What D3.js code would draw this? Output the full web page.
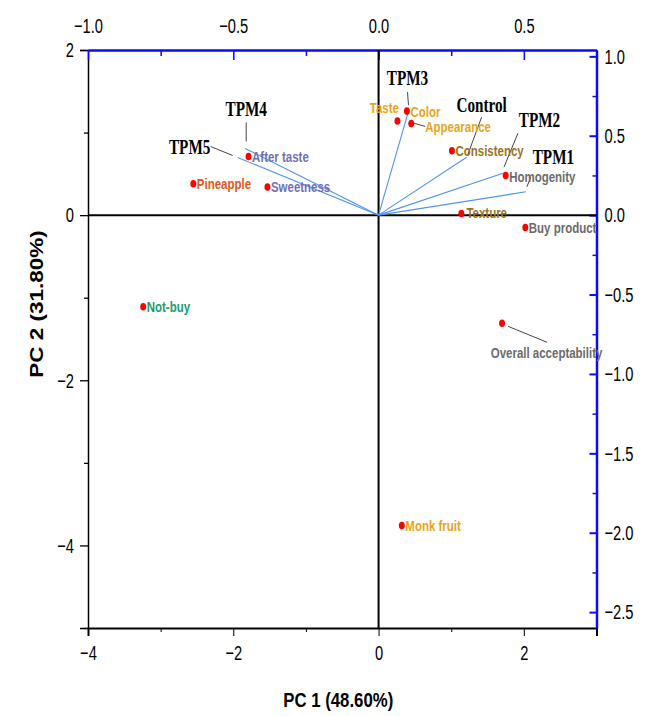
<!DOCTYPE html>
<html>
<head>
<meta charset="utf-8">
<script src="https://cdn.jsdelivr.net/npm/d3@7"></script>
<style>
  html, body { margin: 0; padding: 0; background: #fff; }
  svg { display: block; }
</style>
</head>
<body>
<svg id="chart" width="648" height="716"></svg>
<script>
// ---------------- DATA ----------------
const attributes = ["Taste", "Color", "Appearance", "Consistency", "Homogenity", "Texture",
  "Buy product", "Overall acceptability", "Monk fruit", "Not-buy", "Pineapple", "After taste", "Sweetness"];
const pc1Scores = [0.26, 0.39, 0.45, 1.01, 1.75, 1.14, 2.02, 1.70, 0.32, -3.24, -2.55, -1.79, -1.53];
const pc2Scores = [1.14, 1.26, 1.11, 0.78, 0.48, 0.02, -0.15, -1.31, -3.76, -1.11, 0.38, 0.71, 0.34];

const samples = ["TPM1", "TPM2", "TPM3", "TPM4", "TPM5", "Control"];
const loadPC1 = [0.507, 0.428, 0.103, -0.459, -0.485, 0.303];
const loadPC2 = [0.147, 0.264, 0.655, 0.420, 0.363, 0.365];

const bottomTicks = [-4, -2, 0, 2];
const bottomMinor = [-3, -1, 1];
const leftTicks = [2, 0, -2, -4];
const leftMinor = [1, -1, -3, -5];
const topTicks = [-1.0, -0.5, 0.0, 0.5];
const topMinor = [-0.75, -0.25, 0.25, 0.75];
const rightTicks = [1.0, 0.5, 0.0, -0.5, -1.0, -1.5, -2.0, -2.5];
const rightMinor = [0.75, 0.25, -0.25, -0.75, -1.25, -1.75, -2.25];

const xTitle = "PC 1 (48.60%)";
const yTitle = "PC 2 (31.80%)";

// ---------------- STYLE / LAYOUT ----------------
const gold = "#e6a519", brown = "#9a7320", gray = "#6b6b6b", purple = "#6f6fb5";
const labelColor = {
  "Taste": gold, "Color": gold, "Appearance": gold, "Monk fruit": gold,
  "Consistency": brown, "Texture": brown,
  "Homogenity": gray, "Buy product": gray, "Overall acceptability": gray,
  "After taste": purple, "Sweetness": purple,
  "Pineapple": "#e0561b", "Not-buy": "#1f9a6e"
};
// label offsets (px) relative to the point
const labelPos = {
  "Taste": {dx: 1.5, dy: -8.5, anchor: "end"},
  "Color": {dx: 3.5, dy: 6},
  "Appearance": {dx: 14, dy: 8.5, lead: [2, -0.5, 14, 3]},
  "Consistency": {dx: 3.5, dy: 5.5},
  "Homogenity": {dx: 3.5, dy: 6},
  "Texture": {dx: 5, dy: 5},
  "Overall acceptability": {dx: 44.5, dy: 35, anchor: "middle", lead: [6, 3, 45, 19]}
};
const sampleLabel = {
  "TPM1": {dx: 27.5, dy: -28, lead: [5, -15, 1, -5]},
  "TPM2": {dx: 36.5, dy: -46, lead: [15, -40, 1, -6]},
  "TPM3": {dx: -1, dy: -26, lead: [-1, -19, 0, -6]},
  "TPM4": {dx: 1, dy: -32, lead: [1, -26, 1, -7]},
  "TPM5": {dx: -48, dy: -4, lead: [-27, -11, -5, -2]},
  "Control": {dx: 15, dy: -45, lead: [15, -40, 1, -2]}
};

const sans = "'Liberation Sans', Arial, Helvetica, sans-serif";
const serif = "'Liberation Serif', 'Times New Roman', serif";
const blue = "#0a0aff";
const tickFont = 21, tickK = 0.7;

const L = 88, R = 596.5, T = 50, B = 628;
const x = d3.scaleLinear().domain([-4, 3]).range([L, R]);
const y = d3.scaleLinear().domain([-5, 2]).range([B, T]);
const xTop = d3.scaleLinear().domain([-1, 0.75]).range([L, R]);
const yRight = d3.scaleLinear().domain([-2.6, 1.04]).range([B, T]);

const svg = d3.select("#chart");

function condense(sel, k) {
  sel.each(function () {
    const t = d3.select(this);
    const tx = +t.attr("x") || 0;
    t.attr("transform", `translate(${tx},0) scale(${k},1)`).attr("x", 0);
  });
}
function fmt(d) { return d3.format(".1f")(d).replace("-", "\u2212"); }
function fmtInt(d) { return String(d).replace("-", "\u2212"); }
function styleTicks(g) {
  g.selectAll("text").attr("font-size", tickFont).attr("font-family", sans)
    .attr("fill", "#000").call(condense, tickK);
}

// ---------------- AXES ----------------
// bottom
const gB = svg.append("g").attr("transform", `translate(0,${B})`);
gB.append("g").call(d3.axisBottom(x).tickValues(bottomMinor).tickSize(4).tickFormat(""))
  .call(g => g.select(".domain").remove());
gB.append("g").call(d3.axisBottom(x).tickValues(bottomTicks).tickSize(8).tickPadding(9).tickFormat(fmtInt))
  .call(g => g.select(".domain").attr("stroke-width", 2))
  .call(styleTicks);

// left
const gL = svg.append("g").attr("transform", `translate(${L},0)`);
gL.append("g").call(d3.axisLeft(y).tickValues(leftMinor).tickSize(4).tickFormat(""))
  .call(g => g.select(".domain").remove());
gL.append("g").call(d3.axisLeft(y).tickValues(leftTicks).tickSize(8).tickPadding(6).tickFormat(fmtInt))
  .call(g => g.select(".domain").attr("stroke-width", 1.5))
  .call(styleTicks);
gL.selectAll(".tick line").attr("stroke-width", 1.3);

// top (loadings PC1)
const gT = svg.append("g").attr("transform", `translate(0,${T})`);
gT.append("g").call(d3.axisBottom(xTop).tickValues(topMinor).tickSize(6).tickFormat(""))
  .call(g => g.select(".domain").remove())
  .call(g => g.selectAll("line").attr("stroke", blue).attr("stroke-width", 1.5));
gT.append("g").call(d3.axisTop(xTop).tickValues(topTicks).tickSize(0).tickPadding(17).tickFormat(fmt))
  .call(g => g.select(".domain").attr("stroke", blue).attr("stroke-width", 2.5))
  .call(styleTicks);
gT.append("g").call(d3.axisBottom(xTop).tickValues(topTicks).tickSize(10).tickFormat(""))
  .call(g => g.select(".domain").remove())
  .call(g => g.selectAll("line").attr("stroke", blue).attr("stroke-width", 1.5));

// right (loadings PC2)
const gR = svg.append("g").attr("transform", `translate(${R},0)`);
gR.append("g").call(d3.axisLeft(yRight).tickValues(rightMinor).tickSize(4).tickFormat(""))
  .call(g => g.select(".domain").remove())
  .call(g => g.selectAll("line").attr("stroke", blue).attr("stroke-width", 1.5));
gR.append("g").call(d3.axisLeft(yRight).tickValues(rightTicks).tickSize(7).tickFormat(""))
  .call(g => g.select(".domain").remove())
  .call(g => g.selectAll("line").attr("stroke", blue).attr("stroke-width", 2));
gR.append("g").call(d3.axisRight(yRight).tickValues(rightTicks).tickSize(0).tickPadding(8).tickFormat(fmt))
  .call(g => g.select(".domain").attr("stroke", blue).attr("stroke-width", 2.5))
  .call(styleTicks);

// zero lines
svg.append("line").attr("x1", L).attr("x2", R).attr("y1", y(0)).attr("y2", y(0))
  .attr("stroke", "#000").attr("stroke-width", 2);
svg.append("line").attr("x1", x(0)).attr("x2", x(0)).attr("y1", T).attr("y2", B)
  .attr("stroke", "#000").attr("stroke-width", 2);

// axis titles
svg.append("text")
  .attr("transform", `translate(${(L + R) / 2 - 4},707) scale(0.84,1)`)
  .attr("text-anchor", "middle").attr("font-family", sans).attr("font-weight", "bold")
  .attr("font-size", 20).attr("fill", "#000").text(xTitle);
svg.append("text")
  .attr("transform", `translate(43,304) rotate(-90) scale(1,0.8)`)
  .attr("text-anchor", "middle").attr("font-family", sans).attr("font-weight", "bold")
  .attr("font-size", 22.5).attr("fill", "#000").text(yTitle);

// ---------------- VECTORS ----------------
const vecs = samples.map((s, i) => ({name: s, lx: loadPC1[i], ly: loadPC2[i]}));
svg.append("g").selectAll("line").data(vecs).join("line")
  .attr("x1", xTop(0)).attr("y1", yRight(0))
  .attr("x2", d => xTop(d.lx)).attr("y2", d => yRight(d.ly))
  .attr("stroke", "#4f94ef").attr("stroke-width", 1.1);

const vl = svg.append("g");
vecs.forEach(d => {
  const ex = xTop(d.lx), ey = yRight(d.ly), p = sampleLabel[d.name];
  vl.append("line").attr("x1", ex + p.lead[0]).attr("y1", ey + p.lead[1])
    .attr("x2", ex + p.lead[2]).attr("y2", ey + p.lead[3])
    .attr("stroke", "#444").attr("stroke-width", 1);
  vl.append("text").attr("transform", `translate(${ex + p.dx},${ey + p.dy}) scale(0.76,1)`)
    .attr("text-anchor", "middle").attr("font-family", serif).attr("font-weight", "bold")
    .attr("font-size", 20).attr("fill", "#000").text(d.name);
});

// ---------------- POINTS ----------------
const pts = attributes.map((a, i) => ({name: a, px: pc1Scores[i], py: pc2Scores[i]}));
const pl = svg.append("g");
pts.forEach(d => {
  const cx = x(d.px), cy = y(d.py), p = labelPos[d.name] || {dx: 3.5, dy: 5};
  if (p.lead) {
    pl.append("line").attr("x1", cx + p.lead[0]).attr("y1", cy + p.lead[1])
      .attr("x2", cx + p.lead[2]).attr("y2", cy + p.lead[3])
      .attr("stroke", "#444").attr("stroke-width", 1);
  }
  pl.append("text").attr("transform", `translate(${cx + p.dx},${cy + p.dy}) scale(0.82,1)`)
    .attr("text-anchor", p.anchor || "start").attr("font-family", sans).attr("font-weight", "bold")
    .attr("font-size", 14).attr("fill", labelColor[d.name]).text(d.name);
});
svg.append("g").selectAll("ellipse").data(pts).join("ellipse")
  .attr("cx", d => x(d.px)).attr("cy", d => y(d.py))
  .attr("rx", 3).attr("ry", 3.8).attr("fill", "#f00");
</script>
</body>
</html>
